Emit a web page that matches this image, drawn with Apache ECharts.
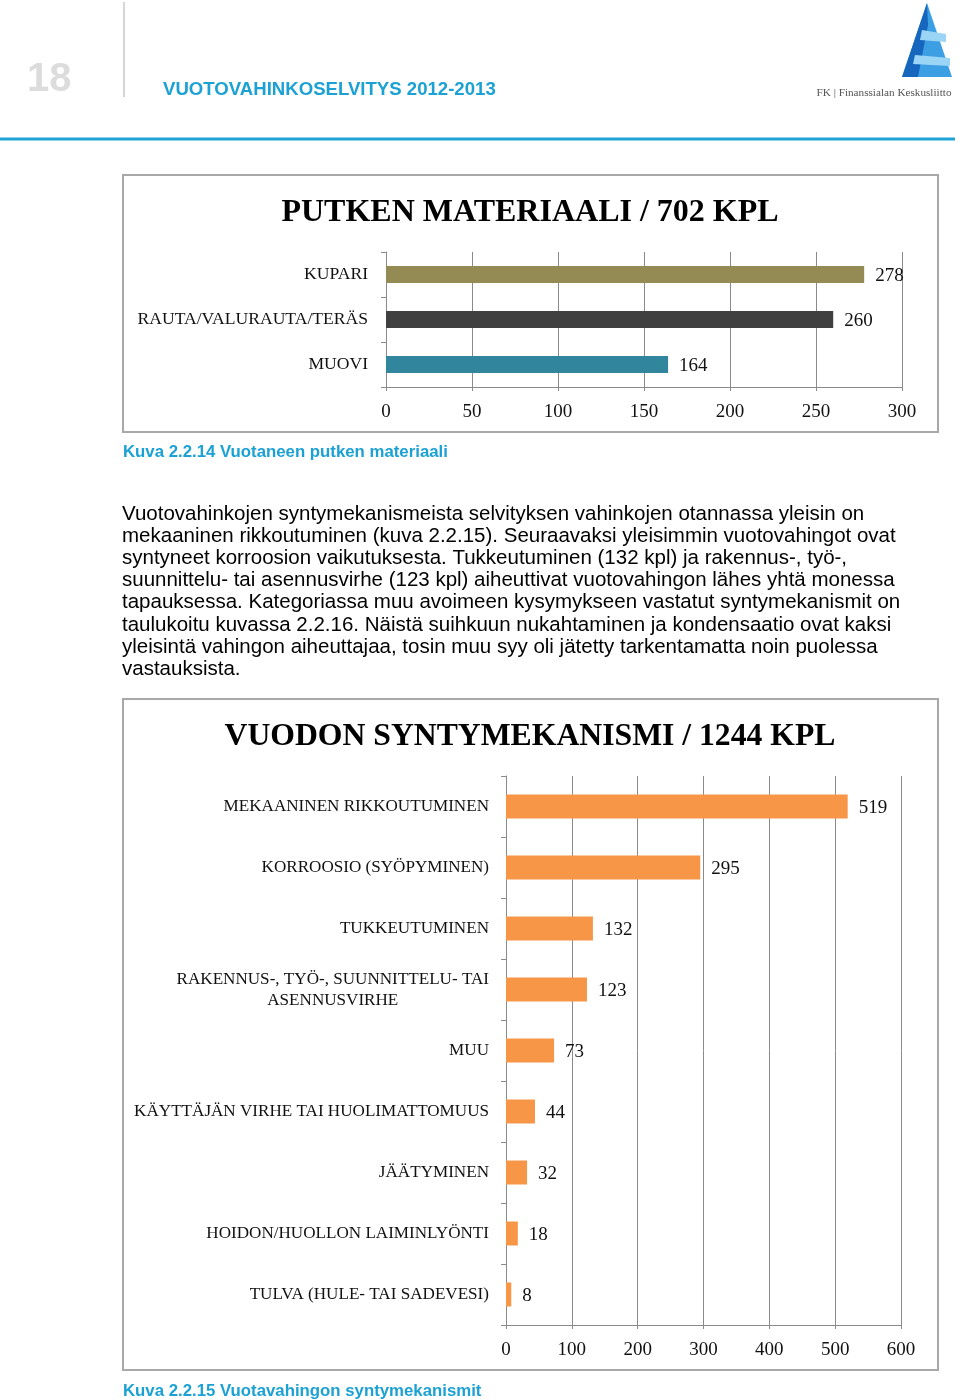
<!DOCTYPE html>
<html>
<head>
<meta charset="utf-8">
<script src="https://cdn.jsdelivr.net/npm/echarts@6/dist/echarts.min.js"></script>
<style>
html,body{margin:0;padding:0;background:#fff;}
#main{width:960px;height:1400px;}
</style>
</head>
<body>
<div id="main"></div>
<script>
// ---- data ----
const materialCategories = ['KUPARI', 'RAUTA/VALURAUTA/TERÄS', 'MUOVI'];
const materialValues = [278, 260, 164];
const materialTicks = [0, 50, 100, 150, 200, 250, 300];

const mechanismCategories = [
  'MEKAANINEN RIKKOUTUMINEN',
  'KORROOSIO (SYÖPYMINEN)',
  'TUKKEUTUMINEN',
  'RAKENNUS-, TYÖ-, SUUNNITTELU- TAI\nASENNUSVIRHE',
  'MUU',
  'KÄYTTÄJÄN VIRHE TAI HUOLIMATTOMUUS',
  'JÄÄTYMINEN',
  'HOIDON/HUOLLON LAIMINLYÖNTI',
  'TULVA (HULE- TAI SADEVESI)'
];
const mechanismValues = [519, 295, 132, 123, 73, 44, 32, 18, 8];
const mechanismTicks = [0, 100, 200, 300, 400, 500, 600];

const paragraphLines = [
  'Vuotovahinkojen syntymekanismeista selvityksen vahinkojen otannassa yleisin on',
  'mekaaninen rikkoutuminen (kuva 2.2.15). Seuraavaksi yleisimmin vuotovahingot ovat',
  'syntyneet korroosion vaikutuksesta. Tukkeutuminen (132 kpl) ja rakennus-, työ-,',
  'suunnittelu- tai asennusvirhe (123 kpl) aiheuttivat vuotovahingon lähes yhtä monessa',
  'tapauksessa. Kategoriassa muu avoimeen kysymykseen vastatut syntymekanismit on',
  'taulukoitu kuvassa 2.2.16. Näistä suihkuun nukahtaminen ja kondensaatio ovat kaksi',
  'yleisintä vahingon aiheuttajaa, tosin muu syy oli jätetty tarkentamatta noin puolessa',
  'vastauksista.'
];

// ---- styles ----
const SERIF = '"Liberation Serif", serif';
const SANS = '"Liberation Sans", Arial, sans-serif';
const BLUE = '#1ba1d4';
const GRID_GRAY = '#8a8a8a';
const materialColors = ['#948a54', '#404040', '#31859c'];
const ORANGE = '#f79646';
const NUM_SIZE = 19;

const chart = echarts.init(document.getElementById('main'), null, {renderer: 'canvas'});

const graphics = [];
// header
graphics.push({type: 'text', x: 27, y: 80, style: {text: '18', font: 'bold 40px ' + SANS, fill: '#dcdcdc', textVerticalAlign: 'middle'}});
graphics.push({type: 'line', shape: {x1: 124, y1: 2, x2: 124, y2: 97}, style: {stroke: '#d6d6d6', lineWidth: 2}});
graphics.push({type: 'text', x: 163, y: 90, style: {text: 'VUOTOVAHINKOSELVITYS 2012-2013', font: 'bold 18.6px ' + SANS, fill: BLUE, textVerticalAlign: 'middle'}});
graphics.push({type: 'line', shape: {x1: 0, y1: 139, x2: 955, y2: 139}, style: {stroke: '#1fa4d8', lineWidth: 3}});
// logo
graphics.push({type: 'polygon', shape: {points: [[927, 3], [902, 77], [952, 77]]}, style: {fill: '#3d9fe3'}});
graphics.push({type: 'polygon', shape: {points: [[927, 3], [902, 77], [918, 77], [928, 25]]}, style: {fill: '#1666bd'}});
graphics.push({type: 'polygon', shape: {points: [[922, 30], [946, 34], [946, 42], [920, 40]]}, style: {fill: '#9bd5f6'}});
graphics.push({type: 'polygon', shape: {points: [[915, 55], [950, 58], [950, 66], [913, 64]]}, style: {fill: '#9bd5f6'}});
graphics.push({type: 'text', x: 884, y: 93, style: {text: 'FK | Finanssialan Keskusliitto', font: '11.2px ' + SERIF, fill: '#555', textAlign: 'center', textVerticalAlign: 'middle'}});

// chart boxes
graphics.push({type: 'rect', shape: {x: 123, y: 175, width: 815, height: 257}, style: {fill: 'none', stroke: '#a8a8a8', lineWidth: 2}});
graphics.push({type: 'rect', shape: {x: 123, y: 699, width: 815, height: 671}, style: {fill: 'none', stroke: '#a8a8a8', lineWidth: 2}});
// chart titles
graphics.push({type: 'text', x: 530, y: 213, style: {text: 'PUTKEN MATERIAALI / 702 KPL', font: 'bold 32px ' + SERIF, fill: '#000', textAlign: 'center', textVerticalAlign: 'middle'}});
graphics.push({type: 'text', x: 530, y: 737, style: {text: 'VUODON SYNTYMEKANISMI / 1244 KPL', font: 'bold 31.7px ' + SERIF, fill: '#000', textAlign: 'center', textVerticalAlign: 'middle'}});
// captions
graphics.push({type: 'text', x: 123, y: 452, style: {text: 'Kuva 2.2.14 Vuotaneen putken materiaali', font: 'bold 16.8px ' + SANS, fill: BLUE, textVerticalAlign: 'middle'}});
graphics.push({type: 'text', x: 123, y: 1391, style: {text: 'Kuva 2.2.15 Vuotavahingon syntymekanismit', font: 'bold 16.8px ' + SANS, fill: BLUE, textVerticalAlign: 'middle'}});
// paragraph
paragraphLines.forEach(function (line, i) {
  graphics.push({type: 'text', x: 122, y: 514 + i * 22.2, style: {text: line, font: '20.5px ' + SANS, fill: '#000', textVerticalAlign: 'middle'}});
});

function catLabel(size, margin) {
  return {
    margin: margin, color: '#111', fontFamily: SERIF, fontSize: size,
    formatter: function (v) {
      if (v.indexOf('\n') >= 0) {
        return v.split('\n').map(function (s) { return '{c|' + s + '}'; }).join('\n');
      }
      return v;
    },
    rich: {c: {align: 'center', fontFamily: SERIF, fontSize: size, color: '#111', lineHeight: 21}}
  };
}

function valueAxis(gi, max, interval, ticks) {
  return {
    gridIndex: gi, type: 'value', min: 0, max: max, interval: interval,
    axisLine: {show: true, lineStyle: {color: GRID_GRAY}},
    axisTick: {show: true, length: 4, lineStyle: {color: GRID_GRAY}},
    splitLine: {show: true, lineStyle: {color: GRID_GRAY, width: 1}},
    axisLabel: {color: '#111', fontFamily: SERIF, fontSize: NUM_SIZE, margin: 16,
      formatter: function (v) { return ticks.indexOf(v) >= 0 ? String(v) : ''; }}
  };
}

const valueLabel = {show: true, position: 'right', distance: 11, offset: [0, 2], color: '#111', fontFamily: SERIF, fontSize: NUM_SIZE};

const option = {
  animation: false,
  backgroundColor: '#fff',
  graphic: graphics,
  grid: [
    {left: 386, top: 252, width: 516, height: 135, containLabel: false},
    {left: 506, top: 776, width: 395, height: 549, containLabel: false}
  ],
  xAxis: [
    valueAxis(0, 300, 50, materialTicks),
    valueAxis(1, 600, 100, mechanismTicks)
  ],
  yAxis: [
    {
      gridIndex: 0, type: 'category', inverse: true, data: materialCategories,
      axisLine: {show: true, lineStyle: {color: GRID_GRAY}},
      axisTick: {show: true, length: 5, lineStyle: {color: GRID_GRAY}},
      axisLabel: catLabel(17.6, 18)
    },
    {
      gridIndex: 1, type: 'category', inverse: true, data: mechanismCategories,
      axisLine: {show: true, lineStyle: {color: GRID_GRAY}},
      axisTick: {show: true, length: 5, lineStyle: {color: GRID_GRAY}},
      axisLabel: catLabel(17.1, 17)
    }
  ],
  series: [
    {
      type: 'bar', xAxisIndex: 0, yAxisIndex: 0, barWidth: 17,
      data: materialValues.map(function (v, i) { return {value: v, itemStyle: {color: materialColors[i]}}; }),
      label: valueLabel
    },
    {
      type: 'bar', xAxisIndex: 1, yAxisIndex: 1, barWidth: 24,
      data: mechanismValues,
      itemStyle: {color: ORANGE},
      label: valueLabel
    }
  ]
};
chart.setOption(option);
</script>
</body>
</html>
